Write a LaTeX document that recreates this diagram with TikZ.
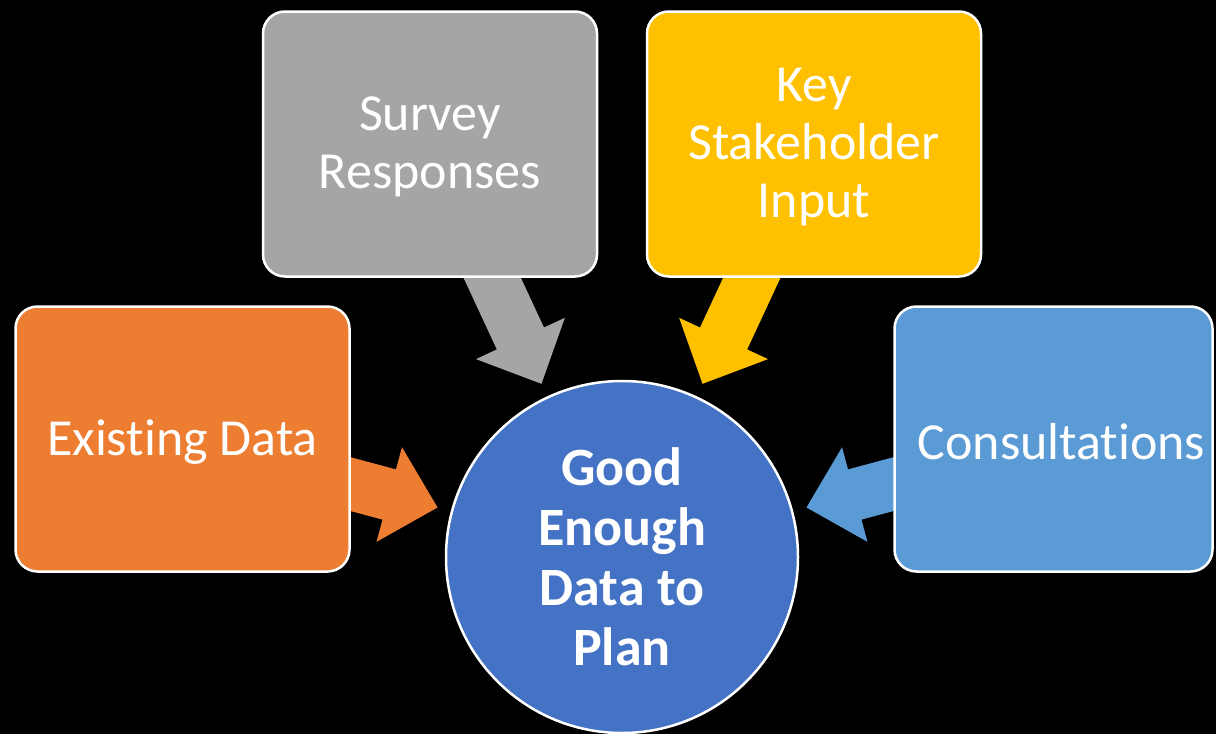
\documentclass[tikz,border=0pt]{standalone}
\usepackage{fontspec}
\setmainfont{Carlito}[Ligatures=NoCommon]
\usetikzlibrary{calc}
\definecolor{corange}{HTML}{ED7D31}
\definecolor{cgray}{HTML}{A5A5A5}
\definecolor{cgold}{HTML}{FFC000}
\definecolor{clblue}{HTML}{5B9BD5}
\definecolor{cblue}{HTML}{4472C4}
\newcommand\blockarrow[3]{%
  \path coordinate (T) at ($(#2)!191pt!(#1)$)
        coordinate (H) at ($(T)!50pt!(#1)$);
  \fill[#3] ($(#1)!26pt!-90:(T)$) -- ($(H)!26pt!90:(#1)$) -- ($(H)!49pt!90:(#1)$)
     -- (T) -- ($(H)!49pt!-90:(#1)$) -- ($(H)!26pt!-90:(#1)$) -- ($(#1)!26pt!90:(T)$) -- cycle;
}
\begin{document}
\begin{tikzpicture}[x=1pt,y=-1pt,
  box/.style={draw=white, line width=2.5pt, rounded corners=22pt, minimum width=334pt,
    minimum height=265pt, inner sep=0pt},
  boxtext/.style={text=white, font=\fontsize{52}{58}\selectfont, align=center, inner sep=0pt, yshift=-3pt},
  hub/.style={circle, draw=white, line width=2.5pt, fill=cblue, minimum size=352pt, text=white,
    font=\bfseries\fontsize{54}{60}\selectfont, align=center, inner sep=0pt}]
\useasboundingbox (0,0) rectangle (1216,734);
\fill[black] (0,0) rectangle (1216,734);
\clip (0,0) rectangle (1216,734);
\coordinate (pe) at (182.5,439);
\coordinate (ps) at (430,144);
\coordinate (pk) at (814,144);
\coordinate (pc) at (1061.5,439);
\node[hub] (hub) at (622,557) {Good\\Enough\\Data to\\Plan};
\blockarrow{pe}{hub}{corange}
\blockarrow{ps}{hub}{cgray}
\blockarrow{pk}{hub}{cgold}
\blockarrow{pc}{hub}{clblue}
\node[box, fill=corange] (exist) at (pe) {};
\node[box, fill=cgray] (survey) at (ps) {};
\node[box, fill=cgold] (key) at (pk) {};
\node[box, fill=clblue, minimum width=318pt] (cons) at (1053.5,439) {};
\node[boxtext] (existt) at (exist.center) {Existing Data};
\node[boxtext] (surveyt) at (survey.center) {Survey\\Responses};
\node[boxtext] (keyt) at (key.center) {Key\\Stakeholder\\Input};
\node[boxtext] (const) at (pc) {Consultations};
\end{tikzpicture}
\end{document}
